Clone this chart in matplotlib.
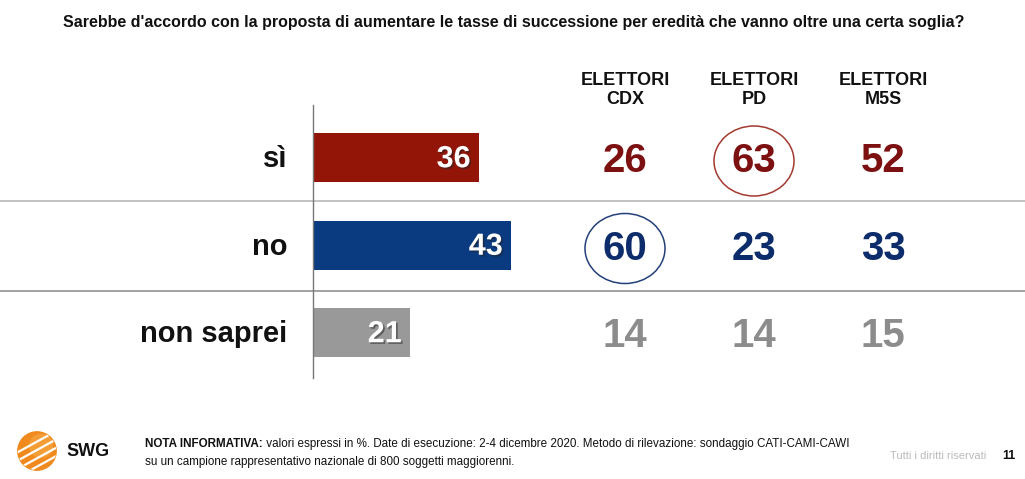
import numpy as np
import matplotlib
matplotlib.use("Agg")
import matplotlib.pyplot as plt
import matplotlib.patheffects as pe
from matplotlib.patches import Ellipse, Circle

plt.rcParams['font.family'] = ['Liberation Sans', 'DejaVu Sans']

categories = ["sì", "no", "non saprei"]
totals = [36, 43, 21]
groups = ["ELETTORI\nCDX", "ELETTORI\nPD", "ELETTORI\nM5S"]
by_group = {
    "CDX": [26, 60, 14],
    "PD": [63, 23, 14],
    "M5S": [52, 33, 15],
}
# (row, group) cells highlighted with a circle
highlights = [(0, "PD"), (1, "CDX")]

bar_colors = ["#921507", "#0A3A80", "#999999"]
num_colors = ["#7D1010", "#0D2C6C", "#8C8C8C"]
circle_colors = ["#A33A30", "#23407A"]

W, H = 1025, 479
fig = plt.figure(figsize=(W / 100, H / 100), dpi=100)

# bar area: starts at x=313px, 4.6 px per unit; rows 87.5 px apart
px_unit = 4.6
ax_left, ax_top, ax_bot = 313, 105, 378
ax = fig.add_axes([ax_left / W, 1 - ax_bot / H, (W - ax_left) / W, (ax_bot - ax_top) / H])
ax.set_xlim(0, (W - ax_left) / px_unit)
row_px = 87.5
y0 = 157.5
ax.set_ylim((ax_bot - y0) / row_px, (ax_top - y0) / row_px)

ypos = np.arange(len(categories))
ax.barh(ypos, totals, height=0.56, color=bar_colors, left=0)

for spine in ["top", "right", "bottom"]:
    ax.spines[spine].set_visible(False)
ax.spines["left"].set_color("#777777")
ax.spines["left"].set_linewidth(1)
ax.set_xticks([])
ax.set_yticks([])
ax.patch.set_alpha(0)

shadow = [pe.SimplePatchShadow(offset=(1.2, -1.2), shadow_rgbFace="#222222", alpha=0.5), pe.Normal()]
for y, v in zip(ypos, totals):
    ax.text(v - 8 / px_unit, y + 0.02, str(v), ha="right", va="center", color="white",
            fontsize=22, fontweight="bold", path_effects=shadow)

for y, lab in zip(ypos, categories):
    ax.text(-26 / px_unit, y + 0.02, lab, ha="right", va="center", fontsize=21,
            fontweight="bold", color="#111111", clip_on=False)

# separators between rows, across the full width
for sep, col in zip([0.5, 1.52], ["#BDBDBD", "#9A9A9A"]):
    ax.axhline(sep, xmin=-ax_left / (W - ax_left), xmax=1, color=col, lw=1.3, clip_on=False)

col_x = {"CDX": (625 - ax_left) / px_unit, "PD": (754 - ax_left) / px_unit, "M5S": (883 - ax_left) / px_unit}
for g, head in zip(by_group, groups):
    x = col_x[g]
    ax.text(x, (90 - y0) / row_px, head, ha="center", va="center", fontsize=13,
            fontweight="bold", color="#111111", linespacing=1.2, clip_on=False)
    for y, v in zip(ypos, by_group[g]):
        ax.text(x, y + 0.04, str(v), ha="center", va="center", fontsize=29,
                fontweight="bold", color=num_colors[y])

for (r, g), c in zip(highlights, circle_colors):
    ax.add_patch(Ellipse((col_x[g], r + 0.04), 80 / px_unit, 70 / row_px,
                         fill=False, edgecolor=c, lw=1.1))

fig.text(514 / W, 1 - 22 / H,
         "Sarebbe d'accordo con la proposta di aumentare le tasse di successione per eredità che vanno oltre una certa soglia?",
         ha="center", va="center", fontsize=11.5, fontweight="bold", color="#111111")

# footer: logo
lax = fig.add_axes([12 / W, 1 - 474 / H, 50 / W, 46 / H])
lax.set_xlim(-1.2, 1.2)
lax.set_ylim(-1.1, 1.1)
lax.set_aspect("equal")
lax.axis("off")
ball = Circle((0, 0), 0.92, color="#F08A1E")
lax.add_patch(ball)
lax.add_patch(Circle((0.2, 0.25), 0.55, color="#F6A540", alpha=0.7))
t = np.linspace(-1.3, 1.3, 50)
for off in [-0.75, -0.35, 0.05, 0.45]:
    ln, = lax.plot(t, 0.55 * t + off, color="white", lw=1.6)
    ln.set_clip_path(ball)
fig.text(66 / W, 1 - 452 / H, "SWG", ha="left", va="center", fontsize=13,
         fontweight="bold", color="#111111")

nota = fig.text(145 / W, 1 - 444 / H, "NOTA INFORMATIVA:", ha="left", va="center", fontsize=8.4,
                fontweight="bold", color="#111111")
fig.add_artist(plt.Annotation(
    " valori espressi in %. Date di esecuzione: 2-4 dicembre 2020. Metodo di rilevazione: sondaggio CATI-CAMI-CAWI",
    xy=(1, 0), xycoords=nota, va="bottom", ha="left", fontsize=8.4, color="#111111"))
fig.text(145 / W, 1 - 462 / H,
         "su un campione rappresentativo nazionale di 800 soggetti maggiorenni.",
         ha="left", va="center", fontsize=8.4, color="#111111")
fig.text(890 / W, 1 - 456 / H, "Tutti i diritti riservati", ha="left", va="center",
         fontsize=8, color="#BBBBBB")
fig.text(1009 / W, 1 - 456 / H, "11", ha="center", va="center", fontsize=9,
         fontweight="bold", color="#111111")

fig.savefig("out.png", dpi=100)
